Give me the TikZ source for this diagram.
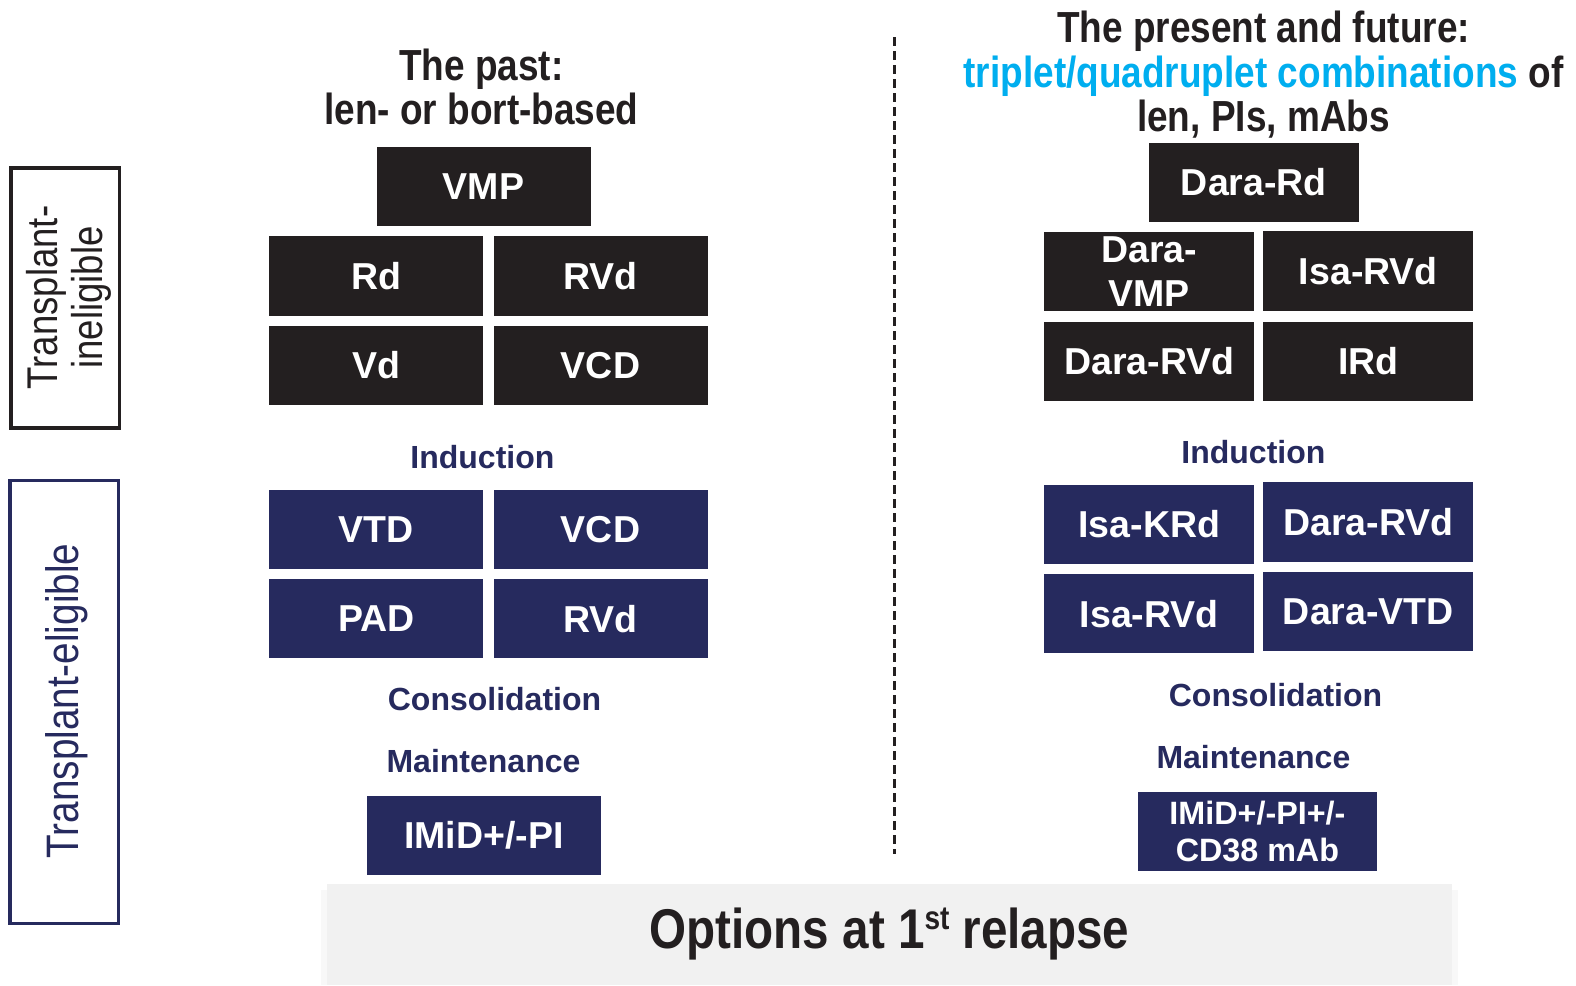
\documentclass[tikz,border=0pt]{standalone}
\usepackage{fontspec}
\setmainfont{Liberation Sans}
\newfontfamily\condfont[FakeStretch=0.85]{Liberation Sans}
\definecolor{boxblack}{HTML}{231F20}
\definecolor{navy}{HTML}{262A5E}
\definecolor{cyanhead}{HTML}{00AEEF}
\definecolor{bargray}{HTML}{F1F1F1}
\definecolor{barshade}{HTML}{F8F8F8}
\tikzset{
  blk/.style={fill=boxblack, text=white, minimum width=214pt, minimum height=79.4pt,
    inner sep=0pt, align=center, font=\bfseries\fontsize{37.5}{44.5}\selectfont},
  rblk/.style={blk, minimum width=210pt},
  nvy/.style={blk, fill=navy},
  rnvy/.style={rblk, fill=navy},
  lab/.style={text=navy, inner sep=0pt, font=\bfseries\fontsize{32}{36}\selectfont},
  head/.style={text=boxblack, inner sep=0pt, align=center, font=\condfont\bfseries\fontsize{43.5}{44.5}\selectfont},
  side/.style={inner sep=0pt, align=center, rotate=90, font=\condfont\fontsize{43}{45}\selectfont},
}
\begin{document}
\begin{tikzpicture}[x=1pt,y=-1pt]
\useasboundingbox[fill=white] (0,0) rectangle (1576,985);

% side frames
\draw[line width=3.5pt, boxblack] (11.1,167.9) rectangle (119.6,428.2);
\node[side, text=boxblack] (ineli) at (68.5,297.5) {Transplant-\\ineligible};
\draw[line width=3.5pt, navy] (10.1,480.4) rectangle (118.6,923.7);
\node[side, text=navy, font=\condfont\fontsize{45.5}{45}\selectfont] (eli) at (66.5,701) {Transplant-eligible};

% headings
\node[head] (hpast) at (481.4,87) {The past:\\len- or bort-based};
\node[head] (hfut) at (1263.5,75) {The present and future:\\{\color{cyanhead}triplet/quadruplet combinations} of\\len, PIs, mAbs};

% dashed divider
\coordinate (dtop) at (894.5,37.2);
\coordinate (dbot) at (894.5,854.3);
\draw[line width=2.5pt, boxblack, dash pattern=on 9pt off 5pt] (dtop) -- (dbot);

% left: transplant-ineligible
\node[blk] (vmp) at (483.5,186.4) {VMP};
\node[blk] (rd) at (376.4,275.9) {Rd};
\node[blk] (rvd) at (600.5,275.9) {RVd};
\node[blk] (vd) at (376.4,365.4) {Vd};
\node[blk] (vcd) at (600.5,365.4) {VCD};

% left: transplant-eligible
\node[lab] (indl) at (482.4,457.3) {Induction};
\node[nvy] (vtd) at (376.4,529.2) {VTD};
\node[nvy] (vcd2) at (600.5,529.2) {VCD};
\node[nvy] (pad) at (376.4,618.6) {PAD};
\node[nvy] (rvd2) at (600.5,618.6) {RVd};
\node[lab] (consl) at (494.5,699.5) {Consolidation};
\node[lab] (maintl) at (483.5,760.9) {Maintenance};
\node[nvy, minimum width=234pt] (imidl) at (484,835.7) {IMiD+/-PI};

% right: transplant-ineligible
\node[rblk] (darard) at (1253.9,182.4) {Dara-Rd};
\node[rblk] (daravmp) at (1149.3,271.5) {Dara-\\VMP};
\node[rblk] (isarvd) at (1368.4,270.9) {Isa-RVd};
\node[rblk] (dararvd) at (1149.3,361.3) {Dara-RVd};
\node[rblk] (ird) at (1368.4,361.3) {IRd};

% right: transplant-eligible
\node[lab] (indr) at (1253.4,452.3) {Induction};
\node[rnvy] (isakrd) at (1149.3,524.2) {Isa-KRd};
\node[rnvy] (dararvd2) at (1368.4,522.1) {Dara-RVd};
\node[rnvy] (isarvd2) at (1149.3,613.6) {Isa-RVd};
\node[rnvy] (daravtd) at (1368.4,611.6) {Dara-VTD};
\node[lab] (consr) at (1275.5,695.5) {Consolidation};
\node[lab] (maintr) at (1253.4,756.8) {Maintenance};
\node[rnvy, minimum width=239pt, font=\bfseries\fontsize{32.3}{37.5}\selectfont] (imidr) at (1257.4,831.7) {IMiD+/-PI+/-\\CD38 mAb};

% bottom bar with faint soft edge
\fill[barshade] (321,890) rectangle (1458,985);
\node[fill=bargray, minimum width=1125.7pt, minimum height=101pt, inner sep=0pt,
  text=boxblack, font=\condfont\bfseries\fontsize{56}{60}\selectfont] (bar) at (889.5,934.5)
  {Options at 1{\fontsize{33}{33}\selectfont\raisebox{19pt}{st}} relapse};
\end{tikzpicture}
\end{document}
